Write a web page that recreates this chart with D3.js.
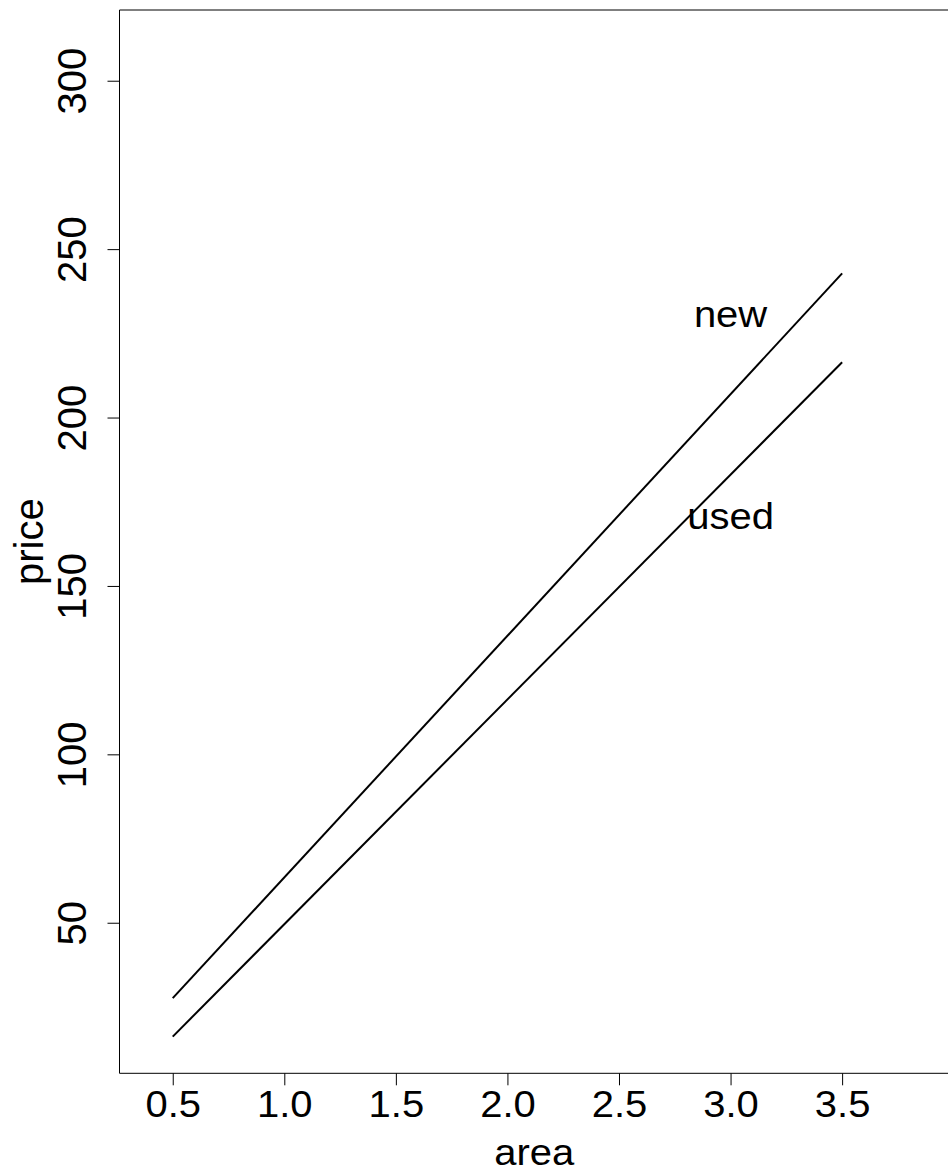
<!DOCTYPE html>
<html>
<head>
<meta charset="utf-8">
<script src="https://cdn.jsdelivr.net/npm/d3@7"></script>
<style>
  body { margin: 0; background: #fff; }
  svg { display: block; font-family: "Liberation Sans", Arial, Helvetica, sans-serif; }
  .axis path, .axis line { stroke: #000; stroke-width: 1; }
  .axis text { fill: #000; }
</style>
</head>
<body>
<div id="chart"></div>
<script>
// data
const area = [0.5, 3.5];
const newPrice = [27.6, 242.8];
const usedPrice = [16.2, 216.4];
const xTicks = [0.5, 1.0, 1.5, 2.0, 2.5, 3.0, 3.5];
const yTicks = [50, 100, 150, 200, 250, 300];
const labelNames = ["new", "used"];
const labelX = [3.0, 3.0];
const labelY = [230, 170];

const W = 948, H = 1174;
const plot = { left: 119.5, right: 949, top: 10, bottom: 1073.3 };
const stretch = 1.11; // horizontal text in the reference is a bit wider than tall

const svg = d3.select("#chart").append("svg")
  .attr("width", W)
  .attr("height", H);

svg.append("rect").attr("width", W).attr("height", H).attr("fill", "#fff");

const x = d3.scaleLinear().domain([0.2614, 3.979]).range([plot.left, plot.right]);
const y = d3.scaleLinear().domain([5.3, 321]).range([plot.bottom, plot.top]);

function widen(sel) {
  sel.each(function() {
    const w = this.getComputedTextLength();
    d3.select(this).attr("textLength", w * stretch).attr("lengthAdjust", "spacingAndGlyphs");
  });
}

// box (right side runs off the page)
svg.append("path")
  .attr("d", `M${plot.right},${plot.top}H${plot.left}V${plot.bottom}H${plot.right}`)
  .attr("fill", "none").attr("stroke", "#000").attr("stroke-width", 1);

// x axis
const xAxis = svg.append("g").attr("class", "axis")
  .attr("transform", `translate(0,${plot.bottom})`)
  .call(d3.axisBottom(x).tickValues(xTicks).tickFormat(d3.format(".1f")).tickSize(12).tickPadding(6));
xAxis.select(".domain").remove();
xAxis.attr("font-family", null).attr("font-size", 36);
widen(xAxis.selectAll("text"));

// y axis, rotated labels as in R
const yAxis = svg.append("g").attr("class", "axis")
  .attr("transform", `translate(${plot.left},0)`)
  .call(d3.axisLeft(y).tickValues(yTicks).tickSize(12));
yAxis.select(".domain").remove();
yAxis.attr("font-family", null).attr("font-size", 40);
yAxis.selectAll("text")
  .attr("transform", "rotate(-90)")
  .attr("x", 0).attr("y", -34).attr("dy", 0)
  .attr("text-anchor", "middle");

// lines
const line = d3.line().x(d => x(d[0])).y(d => y(d[1]));
[newPrice, usedPrice].forEach(p => {
  svg.append("path")
    .datum(area.map((a, i) => [a, p[i]]))
    .attr("d", line)
    .attr("fill", "none")
    .attr("stroke", "#000")
    .attr("stroke-width", 2);
});

// line labels
labelNames.forEach((t, i) => {
  svg.append("text")
    .attr("x", x(labelX[i]))
    .attr("y", y(labelY[i]))
    .attr("dy", "0.28em")
    .attr("text-anchor", "middle")
    .attr("font-size", 36)
    .text(t)
    .call(widen);
});

// axis titles
svg.append("text")
  .attr("x", (plot.left + plot.right) / 2)
  .attr("y", 1165)
  .attr("text-anchor", "middle")
  .attr("font-size", 36)
  .text("area")
  .call(widen);

svg.append("text")
  .attr("transform", `translate(43,${(plot.top + plot.bottom) / 2}) rotate(-90)`)
  .attr("text-anchor", "middle")
  .attr("font-size", 40)
  .text("price");
</script>
</body>
</html>
